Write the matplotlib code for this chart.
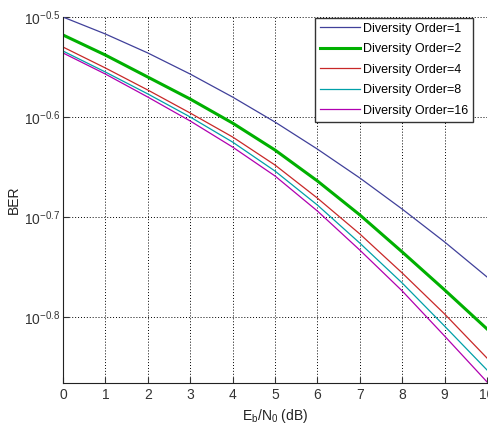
import matplotlib
matplotlib.use("Agg")
import matplotlib.pyplot as plt
import numpy as np

plt.rcParams['font.family'] = ['Liberation Sans', 'DejaVu Sans']
plt.rcParams['mathtext.default'] = 'regular'

ebn0_db = [0, 1, 2, 3, 4, 5, 6, 7, 8, 9, 10]
ber_order1 = [0.3162, 0.3041, 0.2911, 0.2773, 0.2630, 0.2483, 0.2333, 0.2183, 0.2032, 0.1884, 0.1738]
ber_order2 = [0.3034, 0.2897, 0.2754, 0.2618, 0.2477, 0.2328, 0.2168, 0.2005, 0.1841, 0.1687, 0.1542]
ber_order4 = [0.2951, 0.2812, 0.2673, 0.2535, 0.2399, 0.2249, 0.2084, 0.1919, 0.1754, 0.1596, 0.1442]
ber_order8 = [0.2924, 0.2786, 0.2649, 0.2512, 0.2371, 0.2218, 0.2051, 0.1879, 0.1714, 0.1552, 0.1403]
ber_order16 = [0.2911, 0.2773, 0.2630, 0.2489, 0.2344, 0.2193, 0.2023, 0.1849, 0.1683, 0.1517, 0.1365]
labels = ['Diversity Order=1', 'Diversity Order=2', 'Diversity Order=4',
          'Diversity Order=8', 'Diversity Order=16']
ytick_exps = [-0.5, -0.6, -0.7, -0.8]
xticks = [0, 1, 2, 3, 4, 5, 6, 7, 8, 9, 10]

fig = plt.figure(figsize=(4.89, 4.26), dpi=100)
ax = fig.add_axes([0.1288, 0.1009, 0.9959 - 0.1288, 0.9601 - 0.1009])

series = [ber_order1, ber_order2, ber_order4, ber_order8, ber_order16]
colors = ['#40409a', '#00b000', '#c82828', '#00a0a8', '#b000b0']
widths = [0.9, 2.2, 0.9, 0.9, 0.9]
for s, c, w, l in zip(series, colors, widths, labels):
    ax.plot(ebn0_db, s, color=c, lw=w, label=l)

ax.set_yscale('log')
ax.set_xlim(0, 10)
ax.set_ylim(10 ** -0.866, 10 ** -0.5)
ax.set_yticks([10 ** e for e in ytick_exps])
ax.set_yticklabels([r'$10^{%s}$' % e for e in ytick_exps])
ax.yaxis.set_minor_locator(matplotlib.ticker.NullLocator())
ax.set_xticks(xticks)
ax.set_xticklabels([str(x) for x in xticks])

ax.grid(True, which='major', linestyle=(0, (1, 2)), color='black', linewidth=0.7)
ax.spines['top'].set_visible(False)
ax.spines['right'].set_visible(False)
for sp in ('left', 'bottom'):
    ax.spines[sp].set_color('#222222')
ax.tick_params(direction='in', labelsize=10, length=4, colors='#333333')
ax.tick_params(axis='y', pad=2)

ax.set_xlabel(r'$E_b/N_0$ (dB)', fontsize=10, color='#222222')
ax.set_ylabel('BER', fontsize=10, color='#222222')
ax.yaxis.set_label_coords(-0.10, 0.5)

leg = ax.legend(loc='upper right', bbox_to_anchor=(0.967, 0.998), borderaxespad=0,
                fontsize=9, fancybox=False, framealpha=1,
                edgecolor='#333333', borderpad=0.4, labelspacing=0.68,
                handlelength=3.2, handletextpad=0.25)
leg.get_frame().set_linewidth(1.0)

fig.savefig('out.png', dpi=100)
